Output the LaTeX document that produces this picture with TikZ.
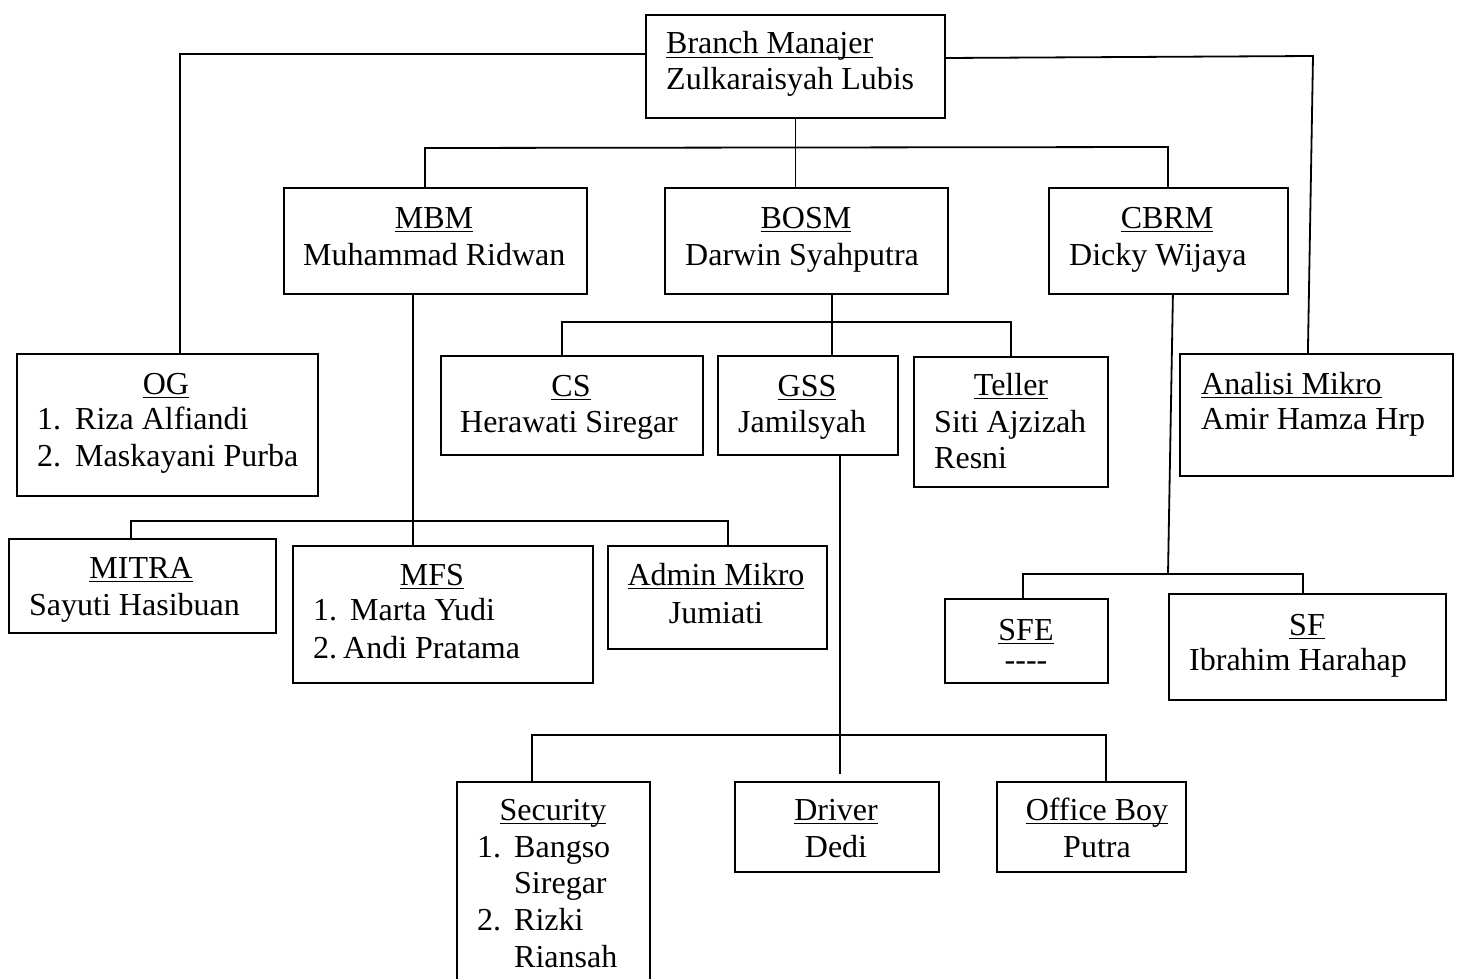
\documentclass[tikz,border=0pt]{standalone}
\usepackage{fontspec}
\setmainfont{Liberation Serif}
\newcommand\ulx[1]{\setbox0=\hbox{#1}\rlap{\rule[-4.2pt]{\wd0}{1.4pt}}\box0}
\begin{document}
\begin{tikzpicture}[x=1pt,y=-1pt,
  box/.style={draw, line width=1.8pt, anchor=north west, inner sep=0pt},
  txt/.style={inner sep=0pt, font=\fontsize{32}{36}\selectfont},
  ln/.style={line width=1.8pt, line cap=rect}]
\useasboundingbox (0,0) rectangle (1457,979);
\clip (0,0) rectangle (1457,979);
% boxes
\node[box, minimum width=299, minimum height=103] (bm) at (645,14) {};
\node[box, minimum width=303, minimum height=106] (mbm) at (283,187) {};
\node[box, minimum width=283, minimum height=106] (bosm) at (664,187) {};
\node[box, minimum width=239, minimum height=106] (cbrm) at (1048,187) {};
\node[box, minimum width=301, minimum height=142] (og) at (16,353) {};
\node[box, minimum width=262, minimum height=99] (cs) at (440,355) {};
\node[box, minimum width=180, minimum height=99] (gss) at (717,355) {};
\node[box, minimum width=194, minimum height=130] (tel) at (913,356) {};
\node[box, minimum width=273, minimum height=122] (ana) at (1179,353) {};
\node[box, minimum width=267, minimum height=94] (mitra) at (8,538) {};
\node[box, minimum width=300, minimum height=137] (mfs) at (292,545) {};
\node[box, minimum width=219, minimum height=103] (adm) at (607,545) {};
\node[box, minimum width=163, minimum height=84] (sfe) at (944,598) {};
\node[box, minimum width=277, minimum height=106] (sf) at (1168,593) {};
\node[box, minimum width=193, minimum height=215] (sec) at (456,781) {};
\node[box, minimum width=204, minimum height=90] (drv) at (734,781) {};
\node[box, minimum width=189, minimum height=90] (ob) at (996,781) {};
% joints
\coordinate (c1) at (180,54);
\coordinate (c2) at (1313,56);
\coordinate (c3) at (425,148);
\coordinate (c4) at (1168,147);
\coordinate (c5) at (413,521);
\coordinate (c6) at (131,521);
\coordinate (c7) at (728,521);
\coordinate (c8) at (832,322);
\coordinate (c9) at (562,322);
\coordinate (c10) at (1011,322);
\coordinate (c11) at (840,735);
\coordinate (c12) at (532,735);
\coordinate (c13) at (1106,735);
\coordinate (c14) at (1168,574);
\coordinate (c15) at (1023,574);
\coordinate (c16) at (1303,574);
% connectors
\draw[ln] ([yshift=-40]bm.north west) -- (c1) -- (c1 |- og.north);
\draw[ln] ([yshift=-44]bm.north east) -- (c2) -- ([xshift=-8.5]ana.north);
\draw[ln] (bm.south) -- (bm.south |- bosm.north);
\draw[ln] (c3 |- mbm.north) -- (c3) -- (c4) -- (c4 |- cbrm.north);
\draw[ln] (c5 |- mbm.south) -- (c5 |- mfs.north);
\draw[ln] (c6 |- mitra.north) -- (c6) -- (c7) -- (c7 |- adm.north);
\draw[ln] (c8 |- bosm.south) -- (c8) -- (c8 |- gss.north);
\draw[ln] (c9 |- cs.north) -- (c9) -- (c10) -- (c10 |- tel.north);
\draw[ln] (c11 |- gss.south) -- (c11) -- ([yshift=8]c11 |- drv.north);
\draw[ln] (c12 |- sec.north) -- (c12) -- (c13) -- (c13 |- ob.north);
\draw[ln] ([xshift=4.5]cbrm.south) -- (c14);
\draw[ln] (c15 |- sfe.north) -- (c15) -- (c16) -- (c16 |- sf.north);
% texts
\node[txt, anchor=base west] (t1) at (666,54) {\ulx{Branch Manajer}};
\node[txt, anchor=base west] (t2) at (666,90) {Zulkaraisyah Lubis};
\node[txt, anchor=base] (t3) at (434,228) {\ulx{MBM}};
\node[txt, anchor=base west] (t4) at (303,265) {Muhammad Ridwan};
\node[txt, anchor=base] (t5) at (806,228) {\ulx{BOSM}};
\node[txt, anchor=base west] (t6) at (685,265) {Darwin Syahputra};
\node[txt, anchor=base] (t7) at (1167,228) {\ulx{CBRM}};
\node[txt, anchor=base west] (t8) at (1069,265) {Dicky Wijaya};
\node[txt, anchor=base] (t9) at (166,394) {\ulx{OG}};
\node[txt, anchor=base west] (t10) at (37,429) {1.};
\node[txt, anchor=base west] (t11) at (75,429) {Riza Alfiandi};
\node[txt, anchor=base west] (t12) at (37,466) {2.};
\node[txt, anchor=base west] (t13) at (75,466) {Maskayani Purba};
\node[txt, anchor=base] (t14) at (571,396) {\ulx{CS}};
\node[txt, anchor=base] (t15) at (569,432) {Herawati Siregar};
\node[txt, anchor=base] (t16) at (807,396) {\ulx{GSS}};
\node[txt, anchor=base west] (t17) at (738,432) {Jamilsyah};
\node[txt, anchor=base] (t18) at (1011,395) {\ulx{Teller}};
\node[txt, anchor=base west] (t19) at (934,432) {Siti Ajzizah};
\node[txt, anchor=base west] (t20) at (934,468) {Resni};
\node[txt, anchor=base west] (t21) at (1201,394) {\ulx{Analisi Mikro}};
\node[txt, anchor=base west] (t22) at (1201,429) {Amir Hamza Hrp};
\node[txt, anchor=base] (t23) at (141,578) {\ulx{MITRA}};
\node[txt, anchor=base west] (t24) at (29,615) {Sayuti Hasibuan};
\node[txt, anchor=base] (t25) at (432,585) {\ulx{MFS}};
\node[txt, anchor=base west] (t26) at (313,620) {1.};
\node[txt, anchor=base west] (t27) at (350,620) {Marta Yudi};
\node[txt, anchor=base west] (t28) at (313,658) {2.};
\node[txt, anchor=base west] (t29) at (343,658) {Andi Pratama};
\node[txt, anchor=base] (t30) at (716,585) {\ulx{Admin Mikro}};
\node[txt, anchor=base] (t31) at (716,623) {Jumiati};
\node[txt, anchor=base] (t32) at (1026,640) {\ulx{SFE}};
\node[txt, anchor=base] (t33) at (1026,670) {-{}-{}-{}-};
\node[txt, anchor=base] (t34) at (1307,635) {\ulx{SF}};
\node[txt, anchor=base west] (t35) at (1189,670) {Ibrahim Harahap};
\node[txt, anchor=base] (t36) at (553,820) {\ulx{Security}};
\node[txt, anchor=base west] (t37) at (477,857) {1.};
\node[txt, anchor=base west] (t38) at (514,857) {Bangso};
\node[txt, anchor=base west] (t39) at (514,893) {Siregar};
\node[txt, anchor=base west] (t40) at (477,930) {2.};
\node[txt, anchor=base west] (t41) at (514,930) {Rizki};
\node[txt, anchor=base west] (t42) at (514,967) {Riansah};
\node[txt, anchor=base] (t43) at (836,820) {\ulx{Driver}};
\node[txt, anchor=base] (t44) at (836,857) {Dedi};
\node[txt, anchor=base] (t45) at (1097,820) {\ulx{Office Boy}};
\node[txt, anchor=base] (t46) at (1097,857) {Putra};
\end{tikzpicture}
\end{document}
